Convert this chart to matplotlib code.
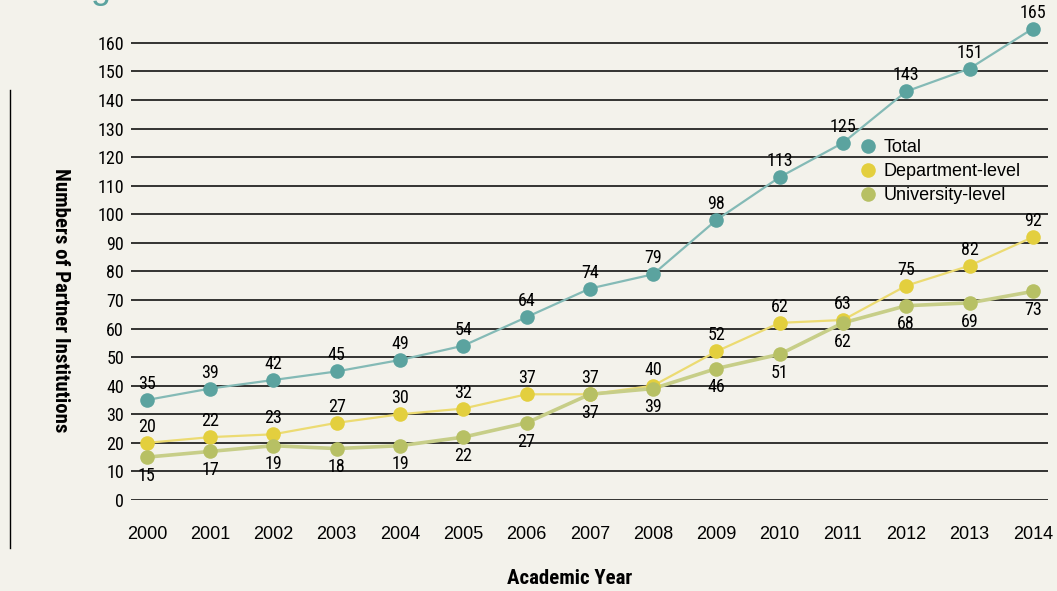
import matplotlib
matplotlib.use("Agg")
import matplotlib.pyplot as plt
from matplotlib.lines import Line2D
from matplotlib import font_manager

years = [2000, 2001, 2002, 2003, 2004, 2005, 2006, 2007, 2008, 2009, 2010, 2011, 2012, 2013, 2014]
total = [35, 39, 42, 45, 49, 54, 64, 74, 79, 98, 113, 125, 143, 151, 165]
department = [20, 22, 23, 27, 30, 32, 37, 37, 40, 52, 62, 63, 75, 82, 92]
university = [15, 17, 19, 18, 19, 22, 27, 37, 39, 46, 51, 62, 68, 69, 73]
series_names = ["Total", "Department-level", "University-level"]
yticks = list(range(0, 161, 10))

fl = font_manager.fontManager.ttflist
names = {f.name for f in fl}
narrow_kw = None
for cand in ["Roboto Condensed", "Liberation Sans Narrow", "Arial Narrow", "Open Sans Condensed"]:
    if cand in names:
        narrow_kw = {"fontfamily": cand}
        break
if narrow_kw is None:
    if any(f.name == "DejaVu Sans" and str(f.stretch) in ("condensed", "semi-condensed") for f in fl):
        narrow_kw = {"fontfamily": "DejaVu Sans", "fontstretch": "condensed"}
    else:
        narrow_kw = {"fontfamily": "Roboto"}
narrow_scale = 1.0 if narrow_kw["fontfamily"] != "Roboto" else 0.92
regular = "Liberation Sans"

BG = "#f3f2eb"
mk_cols = ["#5ba39f", "#e3cf3e", "#b7c064"]
ln_cols = ["#84bab6", "#ecdb72", "#c7ce88"]
ln_w = [1.6, 1.6, 2.6]

fig = plt.figure(figsize=(10.57, 5.91), dpi=100, facecolor=BG)
ax = fig.add_axes([131/1057, (591-500)/591, (1048-131)/1057, (500-20)/591])
ax.set_facecolor(BG)
ax.set_xlim(1999.75, 2014.24)
ax.set_ylim(0, 168)
for s in ax.spines.values():
    s.set_visible(False)

for t in yticks:
    ax.axhline(t, color="black", lw=1.1, zorder=1)

ax.set_yticks(yticks)
ax.set_yticklabels([str(t) for t in yticks], fontsize=13 * narrow_scale, **narrow_kw)
ax.set_xticks(years)
ax.set_xticklabels([str(y) for y in years], fontfamily=regular, fontsize=13)
ax.tick_params(axis="y", length=0, pad=5)
ax.tick_params(axis="x", length=0, pad=19)

data = [total, department, university]
for i, vals in enumerate(data):
    ax.plot(years, vals, color=ln_cols[i], lw=ln_w[i], zorder=2 + i * 0.1, clip_on=False)
    ax.plot(years, vals, "o", color=mk_cols[i], ms=10.5, mec="none", zorder=3 + i * 0.1, clip_on=False)
    for x, v in zip(years, vals):
        if i < 2:
            ax.annotate(str(v), (x, v), xytext=(0, 5), textcoords="offset points",
                        ha="center", va="bottom", fontsize=13 * narrow_scale, zorder=5, **narrow_kw)
        else:
            ax.annotate(str(v), (x, v), xytext=(0, -7), textcoords="offset points",
                        ha="center", va="top", fontsize=13 * narrow_scale, zorder=5, **narrow_kw)

handles = [Line2D([], [], ls="none", marker="o", color=c, ms=10.5, mec="none") for c in mk_cols]
fig.legend(handles, series_names, loc="upper left", bbox_to_anchor=(859/1057, 1 - 139/591),
           frameon=False, prop={"family": regular, "size": 13}, handlelength=1.0,
           handletextpad=0.35, labelspacing=0.4, borderpad=0, borderaxespad=0)

fig.text(60/1057, 1 - 300/591, "Numbers of Partner Institutions", rotation=270,
         ha="center", va="center", fontweight="bold", fontsize=15 * narrow_scale, **narrow_kw)
fig.text(570/1057, 1 - 578/591, "Academic Year", ha="center", va="center",
         fontweight="bold", fontsize=15 * narrow_scale, **narrow_kw)

fig.add_artist(Line2D([10/1057, 10/1057], [1 - 90/591, 1 - 548/591], color="black", lw=1.0))
fig.text(100/1057, 1 + 2/591, "g", ha="center", va="baseline", color="#5ba39f",
         fontfamily=regular, fontsize=26)

fig.savefig("out.png", dpi=100, facecolor=BG)
